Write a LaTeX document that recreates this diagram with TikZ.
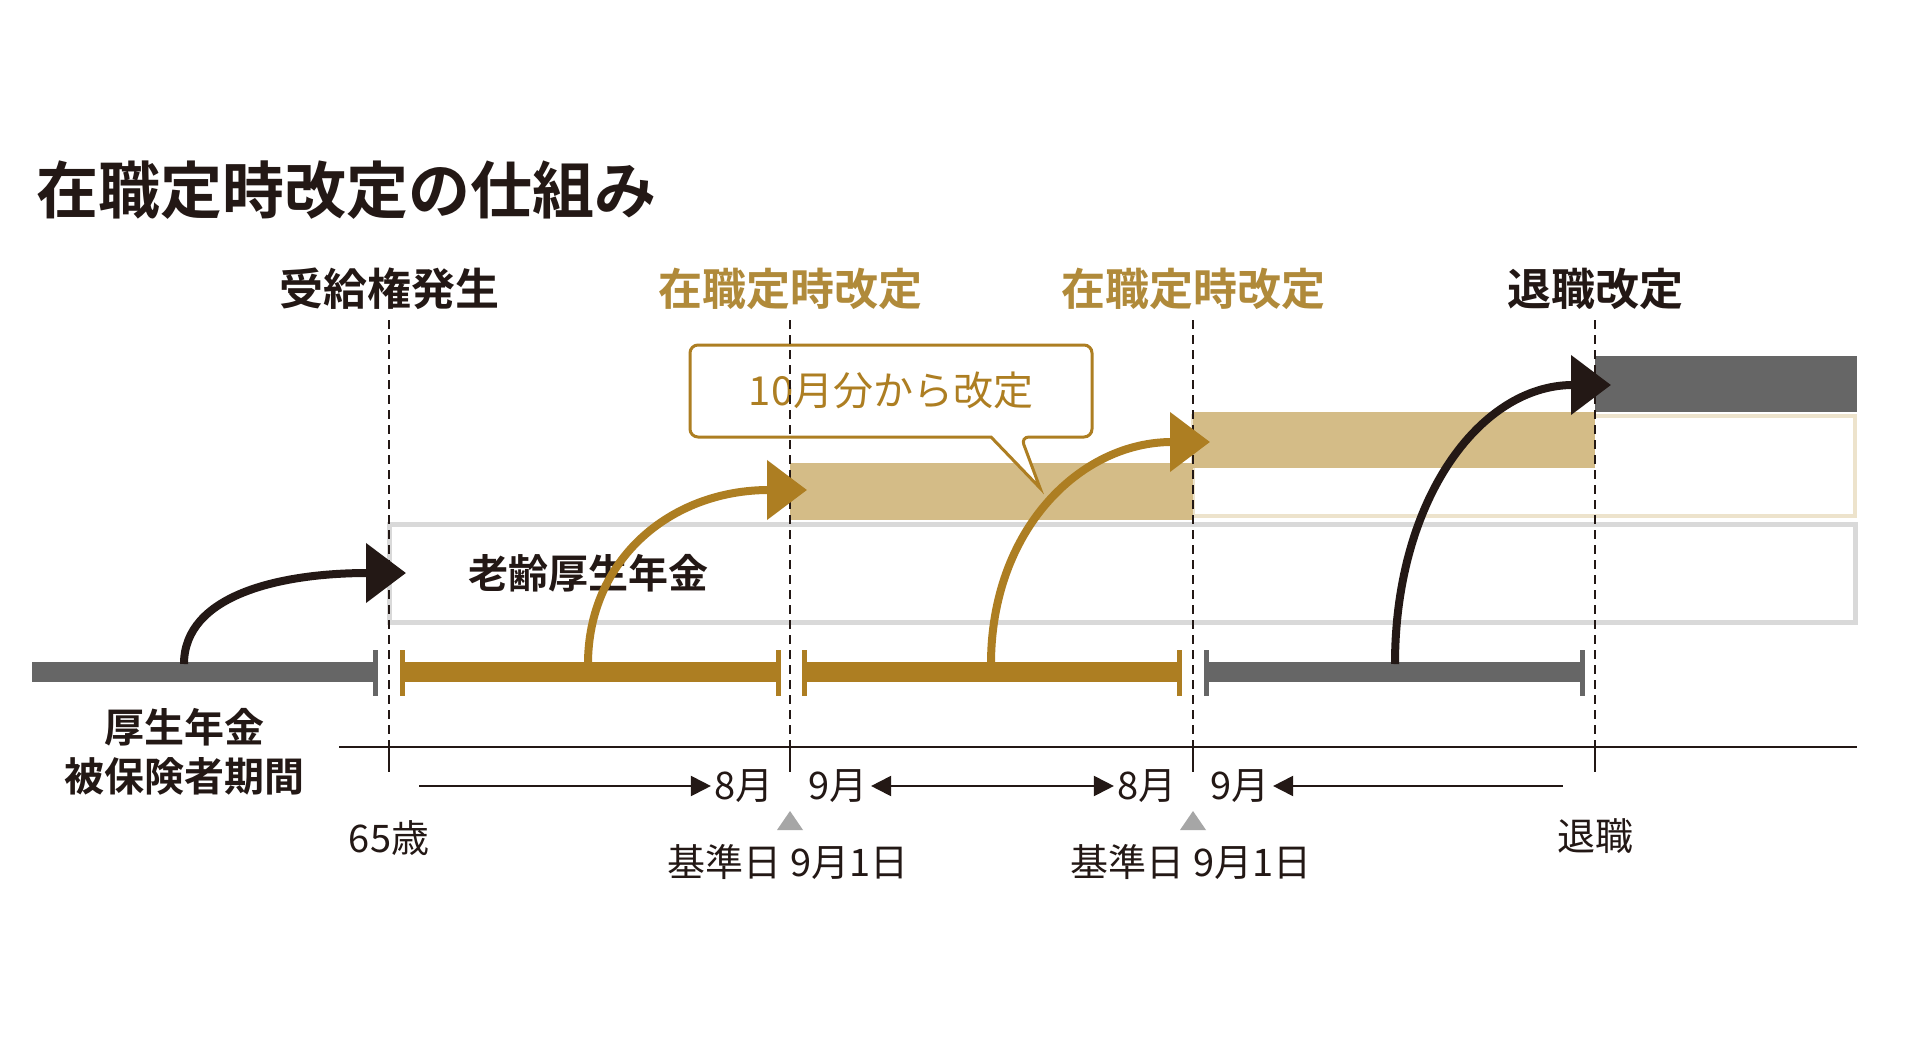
\documentclass[tikz,border=0pt]{standalone}
\usepackage{fontspec}
\setmainfont{Noto Sans CJK JP}
\newfontfamily\jpb{Noto Sans CJK JP Bold}
\usetikzlibrary{arrows.meta}
\definecolor{gold}{HTML}{AD7E22}
\definecolor{goldtxt}{HTML}{B08A3A}
\definecolor{lgold}{HTML}{D4BC87}
\definecolor{pgold}{HTML}{EDE3CC}
\definecolor{dgray}{HTML}{666666}
\definecolor{lgray}{HTML}{D9D9D9}
\definecolor{ink}{HTML}{231815}
\tikzset{
  hdr/.style={font=\jpb\fontsize{44}{48}\selectfont},
  lbl/.style={font=\fontsize{38}{42}\selectfont, text=ink},
  dsh/.style={ink, line width=1.6pt, dash pattern=on 9pt off 6pt},
  bigarr/.style={line width=8pt, -{Triangle[length=40pt,width=58pt]}},
  thinarr/.style={ink, line width=2pt},
  tk/.style={line width=5pt},
}
\begin{document}
\begin{tikzpicture}[x=1pt,y=-1pt]
\useasboundingbox (0,0) rectangle (1920,1046);
\fill[white] (0,0) rectangle (1920,1046);
% title
\node[anchor=west, font=\jpb\fontsize{62}{66}\selectfont, text=ink] (title) at (33,190) {在職定時改定の仕組み};
% headers
\node[hdr, text=ink] (h1) at (389,289) {受給権発生};
\node[hdr, text=goldtxt] (h2) at (790,289) {在職定時改定};
\node[hdr, text=goldtxt] (h3) at (1193,289) {在職定時改定};
\node[hdr, text=ink] (h4) at (1595,289) {退職改定};
% benefit blocks
\draw[lgray, line width=5pt] (389,524) rectangle (1855,622);
\draw[pgold, line width=4pt] (1193,416) rectangle (1855,516);
\fill[lgold] (790,463) rectangle (1193,520);
\fill[lgold] (1193,412) rectangle (1595,468);
\fill[dgray] (1595,356) rectangle (1857,412);
\node[font=\jpb\fontsize{40}{44}\selectfont, text=ink] (rk) at (588,573) {老齢厚生年金};
% callout
\draw[gold, line width=3pt, fill=white, rounded corners=8pt]
  (690,345) -- (1092,345) -- (1092,437) -- (1021,437) [sharp corners] -- (1040,488) -- (991,437) [rounded corners=8pt] -- (690,437) -- cycle;
\node[text=gold, font=\fontsize{40}{44}\selectfont] (co) at (891,390) {10月分から改定};
% dashed verticals
\foreach \x/\n in {389/a,790/b,1193/c,1595/d}{
  \coordinate (t\n) at (\x,320);
  \coordinate (m\n) at (\x,747);
  \coordinate (e\n) at (\x,772);
  \draw[dsh] (t\n) -- (m\n);
  \draw[ink, line width=1.6pt] (m\n) -- (e\n);
}
% axis
\coordinate (ax0) at (339,747); \coordinate (ax1) at (1857,747);
\draw[ink, line width=2pt] (ax0) -- (ax1);
% time bars
\draw[dgray, line width=20pt] (32,672) -- (375,672);
\draw[dgray, tk] (375,650) -- (375,696);
\draw[gold, line width=20pt] (402,672) -- (778,672);
\draw[gold, tk] (402,650) -- (402,696); \draw[gold, tk] (778,650) -- (778,696);
\draw[gold, line width=20pt] (804,672) -- (1179,672);
\draw[gold, tk] (804,650) -- (804,696); \draw[gold, tk] (1179,650) -- (1179,696);
\draw[dgray, line width=20pt] (1206,672) -- (1582,672);
\draw[dgray, tk] (1206,650) -- (1206,696); \draw[dgray, tk] (1582,650) -- (1582,696);
% curved arrows
\coordinate (s1) at (184,664); \coordinate (e1) at (406,573);
\coordinate (s2) at (588,664); \coordinate (e2) at (807,490);
\coordinate (s3) at (991,664); \coordinate (e3) at (1210,442);
\coordinate (s4) at (1395,664); \coordinate (e4) at (1611,385);
\draw[bigarr, ink] (s1) .. controls (184,595) and (280,573) .. (e1);
\draw[bigarr, gold] (s2) .. controls (588,560) and (670,490) .. (e2);
\draw[bigarr, gold] (s3) .. controls (991,530) and (1080,442) .. (e3);
\draw[bigarr, ink] (s4) .. controls (1395,500) and (1480,385) .. (e4);
% lower labels
\node[font=\jpb\fontsize{40}{44}\selectfont, text=ink] (k1) at (184,727) {厚生年金};
\node[font=\jpb\fontsize{40}{44}\selectfont, text=ink] (k2) at (184,776) {被保険者期間};
\node[lbl] (m8a) at (744,786) {8月};
\node[lbl] (m9a) at (838,786) {9月};
\node[lbl] (m8b) at (1147,786) {8月};
\node[lbl] (m9b) at (1240,786) {9月};
\coordinate (la) at (419,786); \coordinate (lb) at (1563,786);
\draw[thinarr, -{Triangle[length=20pt,width=20pt]}] (la) -- (m8a.west);
\draw[thinarr, {Triangle[length=20pt,width=20pt]}-{Triangle[length=20pt,width=20pt]}] (m9a.east) -- (m8b.west);
\draw[thinarr, {Triangle[length=20pt,width=20pt]}-] (m9b.east) -- (lb);
\node[lbl] (age) at (389,838) {65歳};
\node[lbl] (ret) at (1595,836) {退職};
\foreach \x/\n in {790/1,1193/2}{
  \fill[gray!70] (\x-13,830) -- (\x+13,830) -- (\x,811) -- cycle;
  \node[lbl] (kj\n) at (\x-2,862) {基準日 9月1日};
}
\end{tikzpicture}
\end{document}
